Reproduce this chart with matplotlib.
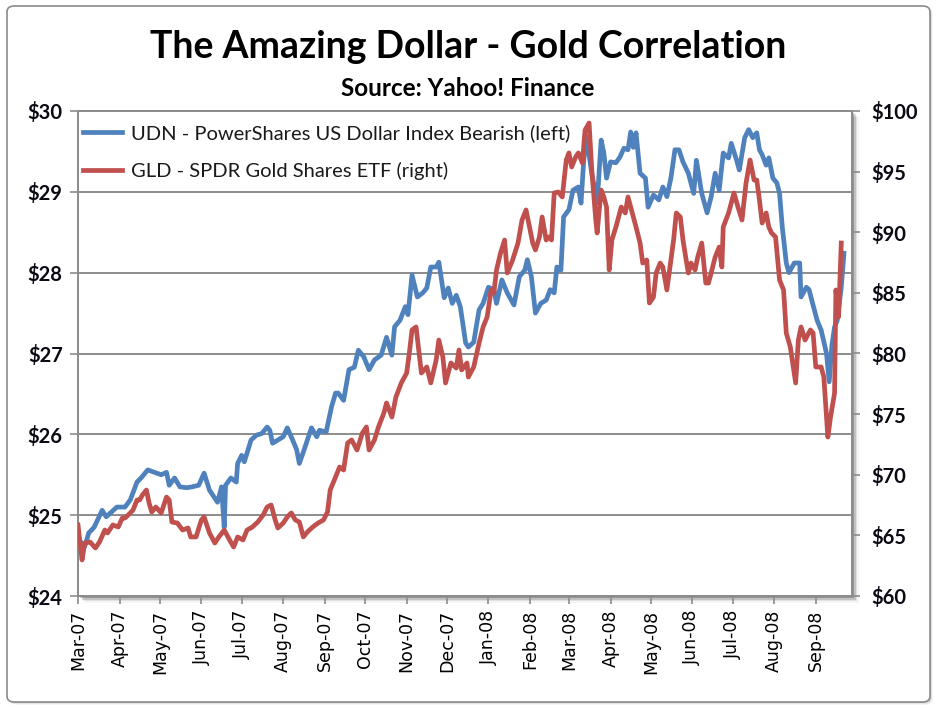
import numpy as np
import pandas as pd
import matplotlib
matplotlib.use("Agg")
import matplotlib.pyplot as plt
import matplotlib.dates as mdates
from matplotlib.patches import Rectangle, FancyBboxPatch

# UDN - PowerShares US Dollar Index Bearish (left axis)
udn_dates = [
    "2007-03-02", "2007-03-06", "2007-03-09", "2007-03-13", "2007-03-19", "2007-03-22", "2007-03-26", "2007-03-30",
    "2007-04-05", "2007-04-09", "2007-04-14", "2007-04-17", "2007-04-22", "2007-04-27", "2007-05-02", "2007-05-06",
    "2007-05-08", "2007-05-12", "2007-05-16", "2007-05-21", "2007-05-25", "2007-05-30", "2007-06-03", "2007-06-07",
    "2007-06-11", "2007-06-13", "2007-06-16", "2007-06-18", "2007-06-19", "2007-06-23", "2007-06-27", "2007-06-28",
    "2007-07-01", "2007-07-03", "2007-07-08", "2007-07-12", "2007-07-16", "2007-07-20", "2007-07-22", "2007-07-24",
    "2007-07-28", "2007-08-01", "2007-08-04", "2007-08-08", "2007-08-11", "2007-08-13", "2007-08-17", "2007-08-22",
    "2007-08-26", "2007-08-28", "2007-09-02", "2007-09-06", "2007-09-09", "2007-09-11", "2007-09-15", "2007-09-19",
    "2007-09-23", "2007-09-26", "2007-09-30", "2007-10-04", "2007-10-08", "2007-10-13", "2007-10-17", "2007-10-21",
    "2007-10-23", "2007-10-27", "2007-10-31", "2007-11-02", "2007-11-05", "2007-11-09", "2007-11-13", "2007-11-16",
    "2007-11-19", "2007-11-23", "2007-11-25", "2007-11-29", "2007-12-02", "2007-12-05", "2007-12-08", "2007-12-11",
    "2007-12-15", "2007-12-17", "2007-12-21", "2007-12-25", "2007-12-28", "2008-01-01", "2008-01-05", "2008-01-07",
    "2008-01-11", "2008-01-15", "2008-01-20", "2008-01-24", "2008-01-28", "2008-01-30", "2008-02-02", "2008-02-05",
    "2008-02-09", "2008-02-13", "2008-02-16", "2008-02-19", "2008-02-21", "2008-02-24", "2008-02-26", "2008-03-01",
    "2008-03-04", "2008-03-08", "2008-03-10", "2008-03-12", "2008-03-14", "2008-03-18", "2008-03-22", "2008-03-25",
    "2008-03-27", "2008-03-29", "2008-04-01", "2008-04-05", "2008-04-08", "2008-04-11", "2008-04-14", "2008-04-16",
    "2008-04-18", "2008-04-20", "2008-04-23", "2008-04-27", "2008-04-29", "2008-05-03", "2008-05-07", "2008-05-10",
    "2008-05-13", "2008-05-16", "2008-05-19", "2008-05-22", "2008-05-25", "2008-05-29", "2008-06-02", "2008-06-04",
    "2008-06-08", "2008-06-12", "2008-06-15", "2008-06-18", "2008-06-21", "2008-06-24", "2008-06-28", "2008-06-30",
    "2008-07-04", "2008-07-06", "2008-07-10", "2008-07-13", "2008-07-16", "2008-07-19", "2008-07-21", "2008-07-23",
    "2008-07-26", "2008-07-28", "2008-07-31", "2008-08-03", "2008-08-05", "2008-08-07", "2008-08-10", "2008-08-12",
    "2008-08-16", "2008-08-20", "2008-08-21", "2008-08-25", "2008-08-27", "2008-08-29", "2008-09-02", "2008-09-05",
    "2008-09-09", "2008-09-11", "2008-09-13", "2008-09-15", "2008-09-17", "2008-09-20", "2008-09-22",
]
udn_values = [
    24.69, 24.61, 24.78, 24.85, 25.06, 24.98, 25.04, 25.10,
    25.10, 25.19, 25.41, 25.46, 25.56, 25.53, 25.50, 25.53,
    25.37, 25.46, 25.35, 25.34, 25.35, 25.37, 25.52, 25.31,
    25.21, 25.16, 25.35, 24.85, 25.37, 25.46, 25.41, 25.64,
    25.74, 25.66, 25.93, 25.99, 26.01, 26.09, 26.05, 25.89,
    25.93, 25.97, 26.08, 25.93, 25.81, 25.64, 25.83, 26.08,
    25.97, 26.05, 26.03, 26.34, 26.51, 26.51, 26.42, 26.80,
    26.83, 27.04, 26.96, 26.80, 26.92, 26.98, 27.20, 26.98,
    27.33, 27.41, 27.58, 27.48, 27.97, 27.70, 27.75, 27.81,
    28.07, 28.07, 28.13, 27.69, 27.81, 27.62, 27.72, 27.58,
    27.13, 27.08, 27.14, 27.54, 27.62, 27.82, 27.79, 27.62,
    27.91, 27.75, 27.60, 27.95, 28.03, 28.16, 27.95, 27.50,
    27.62, 27.66, 27.79, 27.75, 28.07, 28.03, 28.69, 28.78,
    29.02, 29.06, 28.86, 29.39, 29.68, 29.23, 28.86, 29.64,
    29.48, 29.17, 29.37, 29.36, 29.43, 29.54, 29.52, 29.74,
    29.55, 29.73, 29.23, 29.17, 28.81, 28.96, 28.90, 29.06,
    28.94, 29.17, 29.52, 29.52, 29.37, 29.23, 28.98, 29.39,
    28.98, 28.74, 28.94, 29.23, 29.02, 29.48, 29.42, 29.60,
    29.39, 29.27, 29.67, 29.77, 29.67, 29.73, 29.52, 29.46,
    29.33, 29.42, 29.17, 29.11, 28.98, 28.57, 28.12, 28.00,
    28.12, 28.12, 27.70, 27.82, 27.79, 27.66, 27.41, 27.29,
    27.00, 26.65, 27.10, 27.33, 27.41, 27.82, 28.24,
]

# GLD - SPDR Gold Shares ETF (right axis)
gld_dates = [
    "2007-03-01", "2007-03-04", "2007-03-06", "2007-03-10", "2007-03-14", "2007-03-17", "2007-03-21", "2007-03-23",
    "2007-03-27", "2007-03-31", "2007-04-03", "2007-04-05", "2007-04-09", "2007-04-11", "2007-04-14", "2007-04-16",
    "2007-04-18", "2007-04-21", "2007-04-23", "2007-04-25", "2007-04-28", "2007-05-02", "2007-05-06", "2007-05-08",
    "2007-05-10", "2007-05-14", "2007-05-18", "2007-05-22", "2007-05-24", "2007-05-28", "2007-06-01", "2007-06-03",
    "2007-06-07", "2007-06-11", "2007-06-14", "2007-06-18", "2007-06-22", "2007-06-25", "2007-06-28", "2007-07-02",
    "2007-07-05", "2007-07-09", "2007-07-13", "2007-07-17", "2007-07-20", "2007-07-23", "2007-07-26", "2007-07-28",
    "2007-08-01", "2007-08-04", "2007-08-07", "2007-08-10", "2007-08-13", "2007-08-16", "2007-08-19", "2007-08-23",
    "2007-08-27", "2007-08-31", "2007-09-03", "2007-09-05", "2007-09-09", "2007-09-12", "2007-09-15", "2007-09-18",
    "2007-09-21", "2007-09-25", "2007-09-29", "2007-10-02", "2007-10-04", "2007-10-08", "2007-10-11", "2007-10-15",
    "2007-10-17", "2007-10-21", "2007-10-24", "2007-10-28", "2007-11-01", "2007-11-03", "2007-11-05", "2007-11-08",
    "2007-11-10", "2007-11-12", "2007-11-16", "2007-11-19", "2007-11-23", "2007-11-25", "2007-11-28", "2007-11-30",
    "2007-12-04", "2007-12-08", "2007-12-10", "2007-12-12", "2007-12-16", "2007-12-17", "2007-12-21", "2007-12-25",
    "2007-12-28", "2007-12-31", "2008-01-03", "2008-01-05", "2008-01-07", "2008-01-10", "2008-01-13", "2008-01-15",
    "2008-01-19", "2008-01-23", "2008-01-26", "2008-01-29", "2008-02-01", "2008-02-03", "2008-02-05", "2008-02-08",
    "2008-02-10", "2008-02-13", "2008-02-15", "2008-02-17", "2008-02-19", "2008-02-22", "2008-02-25", "2008-02-28",
    "2008-03-01", "2008-03-03", "2008-03-06", "2008-03-08", "2008-03-11", "2008-03-13", "2008-03-16", "2008-03-18",
    "2008-03-21", "2008-03-22", "2008-03-25", "2008-03-27", "2008-03-29", "2008-03-31", "2008-04-02", "2008-04-05",
    "2008-04-09", "2008-04-12", "2008-04-14", "2008-04-16", "2008-04-20", "2008-04-23", "2008-04-25", "2008-04-28",
    "2008-04-30", "2008-05-03", "2008-05-05", "2008-05-08", "2008-05-10", "2008-05-13", "2008-05-16", "2008-05-18",
    "2008-05-20", "2008-05-23", "2008-05-25", "2008-05-27", "2008-05-29", "2008-05-31", "2008-06-03", "2008-06-05",
    "2008-06-08", "2008-06-11", "2008-06-13", "2008-06-15", "2008-06-18", "2008-06-21", "2008-06-23", "2008-06-24",
    "2008-06-28", "2008-07-02", "2008-07-05", "2008-07-08", "2008-07-11", "2008-07-14", "2008-07-17", "2008-07-19",
    "2008-07-21", "2008-07-23", "2008-07-26", "2008-07-28", "2008-07-30", "2008-08-02", "2008-08-05", "2008-08-08",
    "2008-08-10", "2008-08-13", "2008-08-17", "2008-08-19", "2008-08-21", "2008-08-24", "2008-08-28", "2008-08-30",
    "2008-09-01", "2008-09-05", "2008-09-07", "2008-09-10", "2008-09-12", "2008-09-15", "2008-09-16", "2008-09-18",
    "2008-09-20",
]
gld_values = [
    65.86, 62.97, 64.37, 64.45, 63.96, 64.45, 65.44, 65.20,
    65.86, 65.69, 66.43, 66.43, 66.85, 67.09, 67.92, 67.92,
    68.33, 68.74, 67.67, 66.93, 67.34, 66.85, 68.16, 67.92,
    66.10, 66.02, 65.44, 65.61, 64.87, 64.87, 66.27, 66.52,
    65.20, 64.37, 64.87, 65.44, 64.62, 64.04, 64.87, 64.62,
    65.44, 65.69, 66.10, 66.68, 67.34, 67.51, 66.27, 65.61,
    66.02, 66.52, 66.85, 66.27, 66.10, 64.87, 65.28, 65.69,
    66.02, 66.27, 66.93, 68.74, 69.81, 70.64, 70.39, 72.62,
    72.87, 72.04, 73.44, 73.94, 72.04, 72.87, 73.94, 75.09,
    75.92, 74.76, 76.41, 77.57, 78.39, 80.04, 81.94, 82.19,
    80.29, 78.39, 78.89, 77.57, 79.46, 81.11, 79.71, 77.57,
    79.22, 78.80, 80.29, 78.64, 79.22, 78.06, 78.89, 80.87,
    82.19, 83.01, 85.24, 84.99, 86.89, 88.29, 89.36, 86.64,
    87.71, 89.11, 91.01, 91.84, 90.19, 89.11, 88.54, 89.61,
    91.26, 89.36, 89.61, 89.36, 93.24, 93.32, 92.91, 95.96,
    96.54, 95.38, 96.21, 96.54, 95.71, 98.43, 99.01, 95.13,
    91.01, 89.94, 93.48, 92.91, 92.08, 86.89, 89.36, 90.43,
    92.08, 91.59, 92.91, 92.08, 90.43, 89.11, 87.46, 87.71,
    84.16, 84.66, 86.64, 87.46, 87.13, 85.24, 87.71, 89.36,
    91.59, 91.26, 89.36, 87.96, 86.64, 87.46, 86.89, 87.96,
    89.11, 85.81, 85.81, 86.64, 87.96, 88.78, 87.13, 90.43,
    91.59, 93.24, 92.08, 91.01, 94.06, 95.96, 94.31, 94.31,
    92.66, 90.76, 91.59, 90.43, 89.94, 89.61, 86.06, 85.24,
    81.69, 80.54, 77.57, 81.11, 82.19, 81.11, 81.94, 81.69,
    78.89, 78.89, 78.06, 73.11, 74.76, 76.74, 85.24, 83.01,
    89.11,
]

title = "The Amazing Dollar - Gold Correlation"
subtitle = "Source: Yahoo! Finance"
udn_label = "UDN - PowerShares US Dollar Index Bearish (left)"
gld_label = "GLD - SPDR Gold Shares ETF (right)"

udn_x = pd.to_datetime(udn_dates)
gld_x = pd.to_datetime(gld_dates)

W, H = 936, 709
fig = plt.figure(figsize=(W / 100, H / 100), dpi=100)
fig.patch.set_facecolor("white")

def fx(px):
    return px / W

def fy(py):
    return 1 - py / H

# outer chart frame with a soft shadow
for i, a in enumerate([0.10, 0.07, 0.04]):
    off = i + 1
    fig.patches.append(FancyBboxPatch((fx(7 + off), fy(702 + off)), fx(923), 696 / H,
                                      boxstyle="round,pad=0,rounding_size=0.008",
                                      transform=fig.transFigure, facecolor="black",
                                      edgecolor="none", alpha=a, zorder=0))
fig.patches.append(FancyBboxPatch((fx(7), fy(702)), fx(923), 696 / H,
                                  boxstyle="round,pad=0,rounding_size=0.008",
                                  transform=fig.transFigure, facecolor="white",
                                  edgecolor="#8a8a8a", lw=1.2, zorder=0.5))

# plot area
L, R, T, B = 78, 852, 111, 596
ax = fig.add_axes([fx(L), fy(B), fx(R - L), (B - T) / H])
ax.set_zorder(2)

# shadow under the plot area
for i, a in enumerate([0.22, 0.14, 0.08, 0.04]):
    off = 2 + i * 1.5
    fig.patches.append(Rectangle((fx(L + off), fy(B + off)), fx(R - L), (B - T) / H,
                                 transform=fig.transFigure, facecolor="black",
                                 edgecolor="none", alpha=a, zorder=1))

blue = "#4F81BD"
red = "#C0504D"
grid_c = "#8c8c8c"

l1, = ax.plot(udn_x, udn_values, color=blue, lw=3.4, solid_joinstyle="round", zorder=3)
ax.set_ylim(24, 30)
ax.set_yticks(np.arange(24, 31, 1))
ax.set_yticklabels([f"${v}" for v in range(24, 31)])
ax.yaxis.grid(True, color=grid_c, lw=1.4)
ax.set_axisbelow(True)
ax.set_facecolor("white")

ax2 = ax.twinx()
l2, = ax2.plot(gld_x, gld_values, color=red, lw=3.4, solid_joinstyle="round", zorder=3)
ax2.set_ylim(60, 100)
ax2.set_yticks(np.arange(60, 101, 5))
ax2.set_yticklabels([f"${v}" for v in range(60, 101, 5)])

ax.set_xlim(pd.Timestamp("2007-03-01"), pd.Timestamp("2008-09-28"))
ax.xaxis.set_major_locator(mdates.MonthLocator())
ax.xaxis.set_major_formatter(mdates.DateFormatter("%b-%y"))

for a_ in (ax, ax2):
    for s in a_.spines.values():
        s.set_color(grid_c)
        s.set_linewidth(1.4)
    a_.tick_params(axis="both", direction="out", color=grid_c, width=1.2, length=6)

for lab in ax.get_xticklabels():
    lab.set_rotation(90)
    lab.set_fontsize(12.5)
    lab.set_fontfamily("DejaVu Sans")
    lab.set_color("black")
ax.tick_params(axis="x", pad=4)

for a_ in (ax, ax2):
    for lab in a_.get_yticklabels():
        lab.set_fontsize(14.5)
        lab.set_fontweight("bold")
        lab.set_fontfamily("Lato")
        lab.set_color("#0a0a14")
ax.tick_params(axis="y", pad=5)
ax2.tick_params(axis="y", pad=8)

leg = ax2.legend([l1, l2], [udn_label, gld_label], loc="upper left",
                 bbox_to_anchor=(5 / (R - L), 1 - 13 / (B - T)), frameon=False,
                 prop={"family": "Lato", "size": 14.5}, handlelength=1.95,
                 handletextpad=0.45, labelspacing=1.0, borderaxespad=0,
                 borderpad=0)
for t in leg.get_texts():
    t.set_color("#1a1a1a")

fig.text(0.5, fy(47), title, ha="center", va="center", fontsize=27,
         fontweight="bold", fontfamily="Lato", color="black")
fig.text(0.5, fy(88), subtitle, ha="center", va="center", fontsize=17.5,
         fontweight="bold", fontfamily="Lato", color="black")

fig.savefig("out.png", dpi=100)
